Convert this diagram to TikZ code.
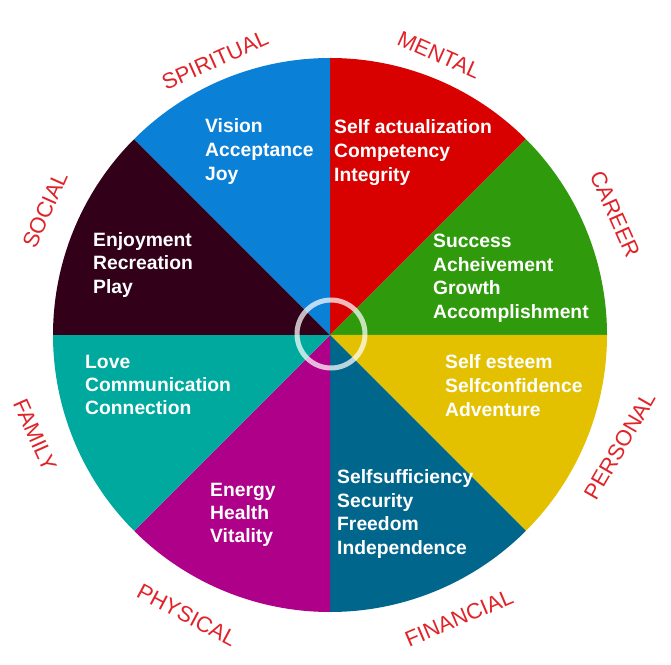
\documentclass[tikz,border=0pt]{standalone}
\usepackage{fontspec}
\setmainfont{Liberation Sans}
\definecolor{cMental}{HTML}{D90000}
\definecolor{cCareer}{HTML}{2F9A0B}
\definecolor{cPersonal}{HTML}{E3C100}
\definecolor{cFinancial}{HTML}{00668B}
\definecolor{cPhysical}{HTML}{AE0088}
\definecolor{cFamily}{HTML}{00A99D}
\definecolor{cSocial}{HTML}{33001A}
\definecolor{cSpiritual}{HTML}{0A80D6}
\definecolor{cLabel}{HTML}{E02328}
\begin{document}
\begin{tikzpicture}[x=1pt,y=1pt,
  lbl/.style={text=cLabel,font=\fontsize{22}{22}\selectfont,inner sep=0pt},
  inner/.style={text=white,font=\fontsize{19.3}{24}\bfseries\selectfont,anchor=base west,inner sep=0pt}]
\useasboundingbox (0,0) rectangle (671,664);
\coordinate (C) at (330,329);
\def\R{277}
\foreach \a/\b/\c in {90/45/cMental,45/0/cCareer,0/-45/cPersonal,-45/-90/cFinancial,-90/-135/cPhysical,-135/-180/cFamily,180/135/cSocial,135/90/cSpiritual}{
  \fill[\c] (C) -- ++(\a:\R) arc[start angle=\a,end angle=\b,radius=\R] -- cycle;
}
\node[draw=white,draw opacity=0.72,line width=5pt,circle,minimum size=68pt,inner sep=0pt] (ring) at (331,330) {};
% outer labels
\node[lbl,rotate=24] (spiritual) at (215,604) {SPIRITUAL};
\node[lbl,rotate=-24] (mental) at (439,609) {MENTAL};
\node[lbl,rotate=-66] (career) at (615,450) {CAREER};
\node[lbl,rotate=60] (personal) at (620,218) {PERSONAL};
\node[lbl,rotate=23] (financial) at (459,46) {FINANCIAL};
\node[lbl,rotate=-28] (physical) at (187,49) {PHYSICAL};
\node[lbl,rotate=-66] (family) at (35,229) {FAMILY};
\node[lbl,rotate=66] (social) at (45,454) {SOCIAL};
% inner texts
\node[inner] (m1) at (334,530.5) {Self actualization};
\node[inner] (m2) at (334,506.5) {Competency};
\node[inner] (m3) at (334,482.5) {Integrity};
\node[inner] (s1) at (205,531.5) {Vision};
\node[inner] (s2) at (205,507.5) {Acceptance};
\node[inner] (s3) at (205,483.5) {Joy};
\node[inner] (c1) at (433,416.5) {Success};
\node[inner] (c2) at (433,392.5) {Acheivement};
\node[inner] (c3) at (433,369) {Growth};
\node[inner] (c4) at (433,345.5) {Accomplishment};
\node[inner] (o1) at (93,417.5) {Enjoyment};
\node[inner] (o2) at (93,394.5) {Recreation};
\node[inner] (o3) at (93,370.5) {Play};
\node[inner] (f1) at (85,295.5) {Love};
\node[inner] (f2) at (85,272.5) {Communication};
\node[inner] (f3) at (85,249.5) {Connection};
\node[inner] (p1) at (445,295.5) {Self esteem};
\node[inner] (p2) at (445,271.5) {Selfconfidence};
\node[inner] (p3) at (445,247.5) {Adventure};
\node[inner] (h1) at (210,167.5) {Energy};
\node[inner] (h2) at (210,144.5) {Health};
\node[inner] (h3) at (210,121.5) {Vitality};
\node[inner] (n1) at (337,180.5) {Selfsufficiency};
\node[inner] (n2) at (337,156.5) {Security};
\node[inner] (n3) at (337,133.5) {Freedom};
\node[inner] (n4) at (337,109.5) {Independence};
\end{tikzpicture}
\end{document}
